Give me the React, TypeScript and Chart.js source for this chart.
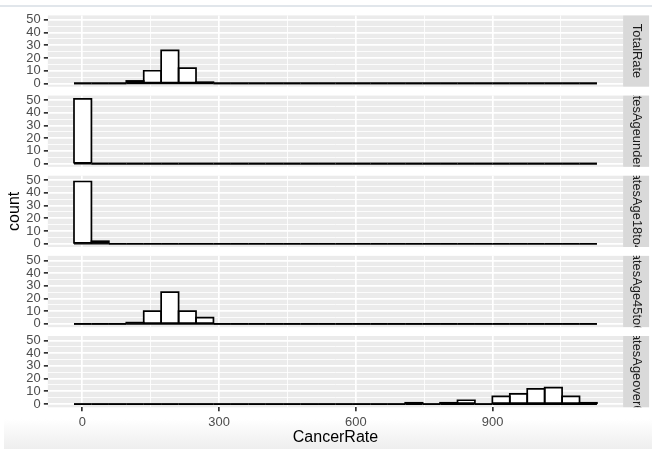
import React, { useEffect, useRef } from 'react';
import { Chart, registerables } from 'chart.js';

Chart.register(...registerables);

// ---------- data ----------
const breaksStart = -18.2; // left edge of the first histogram bin
const binWidth = 38.24;    // width of each bin (30 bins)

const panelLabels = ['TotalRate', 'RatesAgeunder18', 'RatesAge18to45', 'RatesAge45to64', 'RatesAgeover64'];

const totalRate = [0, 0, 0, 2, 10, 26, 12, 1, 0, 0, 0, 0, 0, 0, 0, 0, 0, 0, 0, 0, 0, 0, 0, 0, 0, 0, 0, 0, 0, 0];
const ageUnder18 = [51, 0, 0, 0, 0, 0, 0, 0, 0, 0, 0, 0, 0, 0, 0, 0, 0, 0, 0, 0, 0, 0, 0, 0, 0, 0, 0, 0, 0, 0];
const age18to45 = [49, 2, 0, 0, 0, 0, 0, 0, 0, 0, 0, 0, 0, 0, 0, 0, 0, 0, 0, 0, 0, 0, 0, 0, 0, 0, 0, 0, 0, 0];
const age45to64 = [0, 0, 0, 1, 10, 25, 10, 5, 0, 0, 0, 0, 0, 0, 0, 0, 0, 0, 0, 0, 0, 0, 0, 0, 0, 0, 0, 0, 0, 0];
const ageOver64 = [0, 0, 0, 0, 0, 0, 0, 0, 0, 0, 0, 0, 0, 0, 0, 0, 0, 0, 0, 1, 0, 1, 3, 0, 6, 8, 12, 13, 6, 1];

const yTickLabels = [0, 10, 20, 30, 40, 50];
const yMinorTicks = [5, 15, 25, 35, 45];
const xTickLabels = [0, 300, 600, 900];
const xMinorTicks = [150, 450, 750, 1050];

const xTitle = 'CancerRate';
const yTitle = 'count';

// ---------- layout ----------
const W = 652;
const H = 450;
const plotLeft = 47.85;
const plotRight = 623.1;
const panelTop0 = 15.4;
const panelStep = 80.15;
const panelH = 71.3;
const stripW = 26;
const outlineW = 1.7;
const FONT = '"Liberation Sans", Arial, Helvetica, sans-serif';

Chart.defaults.font.family = FONT;

const series = [totalRate, ageUnder18, age18to45, age45to64, ageOver64];
const nBins = totalRate.length;
const xLo = breaksStart;
const xHi = breaksStart + binWidth * nBins;
const xSpan = xHi - xLo;
const xMin = xLo - 0.05 * xSpan;
const xMax = xHi + 0.05 * xSpan;
const maxCount = Math.max(...series.flat());
const yMin = -0.05 * maxCount;
const yMax = maxCount * 1.05;

const xGrid = [...xTickLabels, ...xMinorTicks].sort((a, b) => a - b);
const yGrid = [...yTickLabels, ...yMinorTicks].sort((a, b) => a - b);

const facetPlugin = {
  id: 'facetStrip',
  beforeDraw(chart: any) {
    const { ctx, chartArea } = chart;
    ctx.save();
    ctx.fillStyle = '#EBEBEB';
    ctx.fillRect(chartArea.left, chartArea.top, chartArea.right - chartArea.left, chartArea.bottom - chartArea.top);
    ctx.restore();
  },
  afterDatasetsDraw(chart: any) {
    // outline each histogram bar with a centred stroke (like ggplot's rect outline)
    const { ctx } = chart;
    const meta = chart.getDatasetMeta(0);
    ctx.save();
    ctx.strokeStyle = '#000000';
    ctx.lineWidth = outlineW;
    ctx.lineJoin = 'miter';
    meta.data.forEach((el: any) => {
      const p = el.getProps(['x', 'y', 'base', 'width'], true);
      const left = p.x - p.width / 2;
      const top = Math.min(p.y, p.base);
      const h = Math.abs(p.base - p.y);
      ctx.beginPath();
      ctx.rect(left, top, p.width, h);
      ctx.stroke();
    });
    ctx.restore();
  },
  afterDraw(chart: any, _args: any, opts: any) {
    if (!opts || !opts.label) return;
    const { ctx, chartArea } = chart;
    const x0 = chartArea.right;
    const top = chartArea.top;
    const h = chartArea.bottom - chartArea.top;
    ctx.save();
    ctx.fillStyle = '#D9D9D9';
    ctx.fillRect(x0, top, stripW, h);
    ctx.beginPath();
    ctx.rect(x0, top, stripW, h);
    ctx.clip();
    ctx.translate(x0 + stripW / 2, top + h / 2);
    ctx.rotate(Math.PI / 2);
    ctx.fillStyle = '#1A1A1A';
    ctx.font = `12.9px ${FONT}`;
    ctx.textAlign = 'center';
    ctx.textBaseline = 'middle';
    ctx.fillText(opts.label, 0, 0);
    ctx.restore();
  },
};

function Panel({ index }: { index: number }) {
  const ref = useRef<HTMLCanvasElement | null>(null);
  useEffect(() => {
    if (!ref.current) return;
    const values = series[index];
    const isBottom = index === series.length - 1;
    const top = panelTop0 + panelStep * index;
    const bottomPad = H - (top + panelH);
    const bars = values.map((v, i) => ({ x: breaksStart + (i + 0.5) * binWidth, y: v }));
    const chart = new Chart(ref.current, {
      type: 'bar',
      data: {
        datasets: [
          {
            type: 'bar',
            data: bars,
            backgroundColor: '#FFFFFF',
            borderColor: '#000000',
            borderWidth: 0,
            barPercentage: 1,
            categoryPercentage: 1,
            order: 0,
          } as any,
          {
            type: 'line',
            data: [
              { x: xLo, y: 0 },
              { x: xHi, y: 0 },
            ],
            borderColor: '#000000',
            borderWidth: outlineW,
            pointRadius: 0,
            order: 1,
          } as any,
        ],
      },
      options: {
        responsive: false,
        maintainAspectRatio: false,
        animation: false,
        events: [],
        layout: {
          padding: { left: 0, right: W - plotRight, top: top, bottom: isBottom ? 0 : bottomPad },
        },
        plugins: {
          legend: { display: false },
          tooltip: { enabled: false },
          facetStrip: { label: panelLabels[index] },
        } as any,
        scales: {
          x: {
            type: 'linear',
            min: xMin,
            max: xMax,
            offset: false,
            border: { display: false },
            grid: {
              offset: false,
              color: '#FFFFFF',
              lineWidth: (c: any) => (c.tick && xTickLabels.includes(c.tick.value) ? 1.7 : 0.85),
              drawTicks: isBottom,
              tickLength: 4,
              tickWidth: 1.7,
              tickColor: (c: any) => (c.tick && xTickLabels.includes(c.tick.value) ? '#333333' : 'rgba(0,0,0,0)'),
            },
            ticks: {
              display: isBottom,
              autoSkip: false,
              maxRotation: 0,
              minRotation: 0,
              padding: 3.2,
              color: '#4D4D4D',
              font: { size: 12.9 },
              callback: (v: any) => (xTickLabels.includes(Number(v)) ? String(v) : ''),
            },
            title: {
              display: isBottom,
              text: xTitle,
              color: '#000000',
              font: { size: 16 },
              padding: { top: 4, bottom: 2.4 },
            },
            afterBuildTicks: (s: any) => {
              s.ticks = xGrid.map((v) => ({ value: v }));
            },
            afterFit: (s: any) => {
              s.height = isBottom ? bottomPad : 0;
            },
          } as any,
          y: {
            type: 'linear',
            min: yMin,
            max: yMax,
            border: { display: false },
            grid: {
              color: '#FFFFFF',
              lineWidth: (c: any) => (c.tick && yTickLabels.includes(c.tick.value) ? 1.7 : 0.85),
              drawTicks: true,
              tickLength: 4,
              tickWidth: 1.7,
              tickColor: (c: any) => (c.tick && yTickLabels.includes(c.tick.value) ? '#333333' : 'rgba(0,0,0,0)'),
            },
            ticks: {
              autoSkip: false,
              padding: 3.2,
              color: '#4D4D4D',
              font: { size: 12.9 },
              callback: (v: any) => (yTickLabels.includes(Number(v)) ? String(v) : ''),
            },
            title: {
              display: index === 2,
              text: yTitle,
              color: '#000000',
              font: { size: 16 },
              padding: { top: 5.4, bottom: 0 },
            },
            afterBuildTicks: (s: any) => {
              s.ticks = yGrid.map((v) => ({ value: v }));
            },
            afterFit: (s: any) => {
              s.width = plotLeft;
            },
          } as any,
        },
      },
      plugins: [facetPlugin as any],
    });
    return () => chart.destroy();
  }, [index]);
  return (
    <canvas
      ref={ref}
      width={W}
      height={H}
      style={{ position: 'absolute', left: 0, top: 0, width: W, height: H }}
    />
  );
}

export default function App() {
  return (
    <div style={{ position: 'fixed', left: 0, top: 0, width: W, height: H, background: '#FFFFFF', overflow: 'hidden' }}>
      <div
        style={{
          position: 'absolute',
          left: 4,
          top: 419,
          width: W - 4,
          height: 30,
          background: 'linear-gradient(to bottom, #FFFFFF, #EEEEEE)',
        }}
      />
      <div style={{ position: 'absolute', left: 0, top: 5, width: W, height: 2, background: '#E1E6EB' }} />
      {series.map((_, i) => (
        <Panel key={i} index={i} />
      ))}
    </div>
  );
}
